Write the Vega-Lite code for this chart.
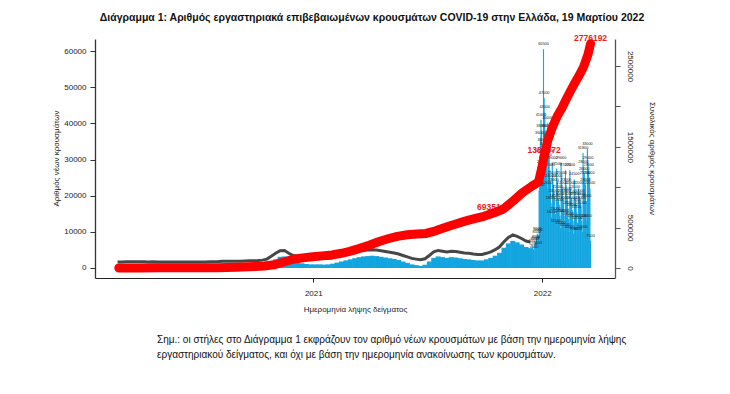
{
  "$schema": "https://vega.github.io/schema/vega-lite/v6.json",
  "background": "white",
  "padding": {"left": 52, "top": 13, "right": 5, "bottom": 5},
  "title": {
    "text": ["Σημ.:  οι στήλες στο Διάγραμμα 1 εκφράζουν τον αριθμό νέων κρουσμάτων με βάση την ημερομηνία λήψης", "εργαστηριακού δείγματος, και όχι με βάση την ημερομηνία ανακοίνωσης των κρουσμάτων."],
    "orient": "bottom", "anchor": "start", "frame": "group",
    "font": "Liberation Sans", "fontSize": 10, "fontWeight": "normal", "color": "#111",
    "offset": 22, "dx": 62, "lineHeight": 15
  },
  "datasets": {
    "weekly": [
      {"date": "2020-02-24", "cases": 2}, {"date": "2020-03-02", "cases": 10}, {"date": "2020-03-09", "cases": 40}, {"date": "2020-03-16", "cases": 65},
      {"date": "2020-03-23", "cases": 75}, {"date": "2020-03-30", "cases": 60}, {"date": "2020-04-06", "cases": 45}, {"date": "2020-04-13", "cases": 30},
      {"date": "2020-04-20", "cases": 40}, {"date": "2020-04-27", "cases": 15}, {"date": "2020-05-04", "cases": 10}, {"date": "2020-05-11", "cases": 12},
      {"date": "2020-05-18", "cases": 8}, {"date": "2020-05-25", "cases": 6}, {"date": "2020-06-01", "cases": 10}, {"date": "2020-06-08", "cases": 15},
      {"date": "2020-06-15", "cases": 20}, {"date": "2020-06-22", "cases": 18}, {"date": "2020-06-29", "cases": 20}, {"date": "2020-07-06", "cases": 30},
      {"date": "2020-07-13", "cases": 25}, {"date": "2020-07-20", "cases": 35}, {"date": "2020-07-27", "cases": 60}, {"date": "2020-08-03", "cases": 110},
      {"date": "2020-08-10", "cases": 190}, {"date": "2020-08-17", "cases": 230}, {"date": "2020-08-24", "cases": 220}, {"date": "2020-08-31", "cases": 200},
      {"date": "2020-09-07", "cases": 210}, {"date": "2020-09-14", "cases": 270}, {"date": "2020-09-21", "cases": 320}, {"date": "2020-09-28", "cases": 340},
      {"date": "2020-10-05", "cases": 400}, {"date": "2020-10-12", "cases": 520}, {"date": "2020-10-19", "cases": 800}, {"date": "2020-10-26", "cases": 1600},
      {"date": "2020-11-02", "cases": 2400}, {"date": "2020-11-09", "cases": 3100}, {"date": "2020-11-16", "cases": 3200}, {"date": "2020-11-23", "cases": 2400},
      {"date": "2020-11-30", "cases": 1800}, {"date": "2020-12-07", "cases": 1500}, {"date": "2020-12-14", "cases": 1300}, {"date": "2020-12-21", "cases": 1100},
      {"date": "2020-12-28", "cases": 1000}, {"date": "2021-01-04", "cases": 1000}, {"date": "2021-01-11", "cases": 1000}, {"date": "2021-01-18", "cases": 950},
      {"date": "2021-01-25", "cases": 1000}, {"date": "2021-02-01", "cases": 1200}, {"date": "2021-02-08", "cases": 1500}, {"date": "2021-02-15", "cases": 1800},
      {"date": "2021-02-22", "cases": 2100}, {"date": "2021-03-01", "cases": 2400}, {"date": "2021-03-08", "cases": 2700}, {"date": "2021-03-15", "cases": 3000},
      {"date": "2021-03-22", "cases": 3200}, {"date": "2021-03-29", "cases": 3300}, {"date": "2021-04-05", "cases": 3400}, {"date": "2021-04-12", "cases": 3300},
      {"date": "2021-04-19", "cases": 3100}, {"date": "2021-04-26", "cases": 2900}, {"date": "2021-05-03", "cases": 2700}, {"date": "2021-05-10", "cases": 2500},
      {"date": "2021-05-17", "cases": 2200}, {"date": "2021-05-24", "cases": 1800}, {"date": "2021-05-31", "cases": 1400}, {"date": "2021-06-07", "cases": 1000},
      {"date": "2021-06-14", "cases": 800}, {"date": "2021-06-21", "cases": 600}, {"date": "2021-06-28", "cases": 900}, {"date": "2021-07-05", "cases": 1800},
      {"date": "2021-07-12", "cases": 2800}, {"date": "2021-07-19", "cases": 3200}, {"date": "2021-07-26", "cases": 3000}, {"date": "2021-08-02", "cases": 2800},
      {"date": "2021-08-09", "cases": 3000}, {"date": "2021-08-16", "cases": 2900}, {"date": "2021-08-23", "cases": 2700}, {"date": "2021-08-30", "cases": 2500},
      {"date": "2021-09-06", "cases": 2400}, {"date": "2021-09-13", "cases": 2200}, {"date": "2021-09-20", "cases": 2100}, {"date": "2021-09-27", "cases": 2100},
      {"date": "2021-10-04", "cases": 2400}, {"date": "2021-10-11", "cases": 2800}, {"date": "2021-10-18", "cases": 3400}, {"date": "2021-10-25", "cases": 4200},
      {"date": "2021-11-01", "cases": 5600}, {"date": "2021-11-08", "cases": 6800}, {"date": "2021-11-15", "cases": 7500}, {"date": "2021-11-22", "cases": 7100},
      {"date": "2021-11-29", "cases": 6500}, {"date": "2021-12-06", "cases": 5800}, {"date": "2021-12-13", "cases": 5500}
    ],
    "daily": [
      {"date": "2021-12-17", "cases": 6000}, {"date": "2021-12-18", "cases": 5200}, {"date": "2021-12-19", "cases": 4500}, {"date": "2021-12-20", "cases": 6500},
      {"date": "2021-12-21", "cases": 7000}, {"date": "2021-12-22", "cases": 7200}, {"date": "2021-12-23", "cases": 8500}, {"date": "2021-12-24", "cases": 9500},
      {"date": "2021-12-25", "cases": 5500}, {"date": "2021-12-26", "cases": 9000}, {"date": "2021-12-27", "cases": 21500}, {"date": "2021-12-28", "cases": 31000},
      {"date": "2021-12-29", "cases": 36000}, {"date": "2021-12-30", "cases": 41000}, {"date": "2021-12-31", "cases": 38000}, {"date": "2022-01-01", "cases": 28000},
      {"date": "2022-01-02", "cases": 34000}, {"date": "2022-01-03", "cases": 60500}, {"date": "2022-01-04", "cases": 47000}, {"date": "2022-01-05", "cases": 43000},
      {"date": "2022-01-06", "cases": 33000}, {"date": "2022-01-07", "cases": 38000}, {"date": "2022-01-08", "cases": 30000}, {"date": "2022-01-09", "cases": 22000},
      {"date": "2022-01-10", "cases": 40000}, {"date": "2022-01-11", "cases": 35000}, {"date": "2022-01-12", "cases": 31000}, {"date": "2022-01-13", "cases": 27000},
      {"date": "2022-01-14", "cases": 24000}, {"date": "2022-01-15", "cases": 18000}, {"date": "2022-01-16", "cases": 14000}, {"date": "2022-01-17", "cases": 29000},
      {"date": "2022-01-18", "cases": 25000}, {"date": "2022-01-19", "cases": 23000}, {"date": "2022-01-20", "cases": 20000}, {"date": "2022-01-21", "cases": 18500},
      {"date": "2022-01-22", "cases": 15000}, {"date": "2022-01-23", "cases": 11500}, {"date": "2022-01-24", "cases": 27500}, {"date": "2022-01-25", "cases": 24000},
      {"date": "2022-01-26", "cases": 21000}, {"date": "2022-01-27", "cases": 19000}, {"date": "2022-01-28", "cases": 17500}, {"date": "2022-01-29", "cases": 14500},
      {"date": "2022-01-30", "cases": 11000}, {"date": "2022-01-31", "cases": 29000}, {"date": "2022-02-01", "cases": 25000}, {"date": "2022-02-02", "cases": 22000},
      {"date": "2022-02-03", "cases": 20000}, {"date": "2022-02-04", "cases": 18000}, {"date": "2022-02-05", "cases": 14500}, {"date": "2022-02-06", "cases": 10500},
      {"date": "2022-02-07", "cases": 27000}, {"date": "2022-02-08", "cases": 23000}, {"date": "2022-02-09", "cases": 20500}, {"date": "2022-02-10", "cases": 19000},
      {"date": "2022-02-11", "cases": 16500}, {"date": "2022-02-12", "cases": 13500}, {"date": "2022-02-13", "cases": 10000}, {"date": "2022-02-14", "cases": 27000},
      {"date": "2022-02-15", "cases": 22000}, {"date": "2022-02-16", "cases": 19500}, {"date": "2022-02-17", "cases": 18000}, {"date": "2022-02-18", "cases": 16000},
      {"date": "2022-02-19", "cases": 13000}, {"date": "2022-02-20", "cases": 9500}, {"date": "2022-02-21", "cases": 24500}, {"date": "2022-02-22", "cases": 21000},
      {"date": "2022-02-23", "cases": 19000}, {"date": "2022-02-24", "cases": 17500}, {"date": "2022-02-25", "cases": 15500}, {"date": "2022-02-26", "cases": 12500},
      {"date": "2022-02-27", "cases": 9500}, {"date": "2022-02-28", "cases": 22000}, {"date": "2022-03-01", "cases": 20000}, {"date": "2022-03-02", "cases": 19000},
      {"date": "2022-03-03", "cases": 18000}, {"date": "2022-03-04", "cases": 16500}, {"date": "2022-03-05", "cases": 13000}, {"date": "2022-03-06", "cases": 10000},
      {"date": "2022-03-07", "cases": 31800}, {"date": "2022-03-08", "cases": 28000}, {"date": "2022-03-09", "cases": 26000}, {"date": "2022-03-10", "cases": 25000},
      {"date": "2022-03-11", "cases": 23000}, {"date": "2022-03-12", "cases": 18500}, {"date": "2022-03-13", "cases": 13000}, {"date": "2022-03-14", "cases": 33000},
      {"date": "2022-03-15", "cases": 29000}, {"date": "2022-03-16", "cases": 27000}, {"date": "2022-03-17", "cases": 25000}, {"date": "2022-03-18", "cases": 22000},
      {"date": "2022-03-19", "cases": 7500}
    ],
    "cumulative": [
      {"date": "2020-02-26", "cum": 0}, {"date": "2020-03-31", "cum": 1300}, {"date": "2020-04-30", "cum": 2600}, {"date": "2020-05-31", "cum": 2900},
      {"date": "2020-06-30", "cum": 3400}, {"date": "2020-07-31", "cum": 4300}, {"date": "2020-08-31", "cum": 10300}, {"date": "2020-09-30", "cum": 18500},
      {"date": "2020-10-15", "cum": 25000}, {"date": "2020-10-31", "cum": 40000}, {"date": "2020-11-15", "cum": 75000}, {"date": "2020-11-30", "cum": 108000},
      {"date": "2020-12-15", "cum": 125000}, {"date": "2020-12-31", "cum": 138000}, {"date": "2021-01-15", "cum": 150000}, {"date": "2021-01-31", "cum": 162000},
      {"date": "2021-02-15", "cum": 182000}, {"date": "2021-02-28", "cum": 205000}, {"date": "2021-03-15", "cum": 240000}, {"date": "2021-03-31", "cum": 282000},
      {"date": "2021-04-15", "cum": 325000}, {"date": "2021-04-30", "cum": 362000}, {"date": "2021-05-15", "cum": 392000}, {"date": "2021-05-31", "cum": 412000},
      {"date": "2021-06-15", "cum": 420000}, {"date": "2021-06-30", "cum": 428000}, {"date": "2021-07-15", "cum": 460000}, {"date": "2021-07-31", "cum": 503000},
      {"date": "2021-08-15", "cum": 542000}, {"date": "2021-08-31", "cum": 580000}, {"date": "2021-09-15", "cum": 612000}, {"date": "2021-09-30", "cum": 640000},
      {"date": "2021-10-20", "cum": 693514}, {"date": "2021-10-31", "cum": 730000}, {"date": "2021-11-15", "cum": 825000}, {"date": "2021-11-30", "cum": 930000},
      {"date": "2021-12-15", "cum": 1010000}, {"date": "2021-12-26", "cum": 1065000}, {"date": "2021-12-31", "cum": 1230000}, {"date": "2022-01-04", "cum": 1380372},
      {"date": "2022-01-10", "cum": 1585000}, {"date": "2022-01-18", "cum": 1760000}, {"date": "2022-01-25", "cum": 1880000}, {"date": "2022-02-01", "cum": 1975000},
      {"date": "2022-02-08", "cum": 2085000}, {"date": "2022-02-15", "cum": 2190000}, {"date": "2022-02-22", "cum": 2290000}, {"date": "2022-03-01", "cum": 2385000},
      {"date": "2022-03-08", "cum": 2490000}, {"date": "2022-03-15", "cum": 2645000}, {"date": "2022-03-19", "cum": 2776192}
    ],
    "labels": [
      {"date": "2021-10-20", "cum": 693514, "grp": "a"},
      {"date": "2022-01-04", "cum": 1380372, "grp": "b"},
      {"date": "2022-03-19", "cum": 2776192, "grp": "b"}
    ]
  },
  "vconcat": [
    {
      "width": 520,
      "height": 239,
      "title": {
        "text": "Διάγραμμα 1: Αριθμός εργαστηριακά επιβεβαιωμένων κρουσμάτων COVID-19 στην Ελλάδα, 19 Μαρτίου 2022",
        "font": "Liberation Sans", "fontSize": 10.5, "fontWeight": "bold", "color": "#111",
        "anchor": "middle", "offset": 10, "dx": 17
      },
      "encoding": {
        "x": {
          "field": "date", "type": "temporal",
          "scale": {"type": "utc", "domain": [{"year": 2020, "month": 1, "date": 27, "utc": true}, {"year": 2022, "month": 4, "date": 19, "utc": true}]},
          "axis": {
            "values": [{"year": 2021, "month": 1, "date": 1, "utc": true}, {"year": 2022, "month": 1, "date": 1, "utc": true}],
            "labelExpr": "utcFormat(datum.value, '%Y')",
            "title": "Ημερομηνία λήψης δείγματος",
            "tickSize": 4, "labelPadding": 7, "titlePadding": 8,
            "labelFontSize": 8, "titleFontSize": 8, "titleFontWeight": "normal",
            "domainColor": "#222", "tickColor": "#222", "labelColor": "#222", "titleColor": "#222"
          }
        }
      },
      "layer": [
        {
          "encoding": {
            "y": {
              "field": "cases", "type": "quantitative",
              "scale": {"domain": [-2765, 63318], "nice": false, "zero": false},
              "axis": {
                "orient": "left", "values": [0, 10000, 20000, 30000, 40000, 50000, 60000], "format": "d",
                "title": "Αριθμός νέων κρουσμάτων", "titleFontSize": 8, "titleFontWeight": "normal",
                "titleX": -39, "titleY": 119, "titleAlign": "center", "titleBaseline": "middle",
                "tickSize": 5, "labelPadding": 4, "labelFontSize": 8,
                "domainColor": "#333", "domainWidth": 1.3, "tickColor": "#333", "labelColor": "#222", "titleColor": "#222"
              }
            }
          },
          "layer": [
            {"data": {"name": "weekly"}, "mark": {"type": "bar", "color": "#12a5e0", "size": 5}},
            {"data": {"name": "daily"}, "mark": {"type": "bar", "color": "#12a5e0", "size": 1.1}},
            {"data": {"name": "weekly"}, "mark": {"type": "line", "color": "#333333", "strokeWidth": 3, "yOffset": -6, "opacity": 0.9}},
            {"data": {"name": "daily"}, "mark": {"type": "text", "fontSize": 3.8, "dy": -5, "color": "#222"}, "encoding": {"text": {"field": "cases", "type": "quantitative", "format": "d"}}}
          ]
        },
        {
          "encoding": {
            "y": {
              "field": "cum", "type": "quantitative",
              "scale": {"domain": [-123800, 2834000], "nice": false, "zero": false},
              "axis": {
                "orient": "right", "values": [0, 500000, 1000000, 1500000, 2000000, 2500000],
                "labelExpr": "datum.value == 1000000 || datum.value == 2000000 ? '' : format(datum.value, 'd')",
                "labelAngle": 90, "labelAlign": "center", "labelBaseline": "bottom",
                "title": "Συνολικός αριθμός κρουσμάτων", "titleFontSize": 8, "titleFontWeight": "normal",
                "titleX": 36, "titleY": 119, "titleAlign": "center", "titleBaseline": "middle", "titleAngle": 90,
                "tickSize": 5, "labelPadding": 5, "labelFontSize": 8,
                "domainColor": "#555", "domainWidth": 1.3, "tickColor": "#555", "labelColor": "#222", "titleColor": "#222"
              }
            }
          },
          "layer": [
            {"data": {"name": "labels"}, "transform": [{"filter": "datum.grp == 'a'"}], "mark": {"type": "text", "align": "right", "dx": 9, "dy": -5, "fontSize": 8.5, "fontWeight": "bold", "color": "#ee1c1c"}, "encoding": {"text": {"field": "cum", "type": "quantitative", "format": "d"}}},
            {"data": {"name": "labels"}, "transform": [{"filter": "datum.grp == 'b'"}], "mark": {"type": "text", "align": "center", "dy": -6, "fontSize": 8.5, "fontWeight": "bold", "color": "#ee1c1c"}, "encoding": {"text": {"field": "cum", "type": "quantitative", "format": "d"}}},
            {"data": {"name": "cumulative"}, "mark": {"type": "line", "color": "#ff0000", "strokeWidth": 9, "strokeCap": "round", "strokeJoin": "round"}}
          ]
        }
      ],
      "resolve": {"scale": {"y": "independent"}}
    }
  ],
  "config": {
    "font": "Liberation Sans",
    "view": {"stroke": null},
    "axis": {"grid": false, "labelFont": "Liberation Sans", "titleFont": "Liberation Sans"}
  }
}
